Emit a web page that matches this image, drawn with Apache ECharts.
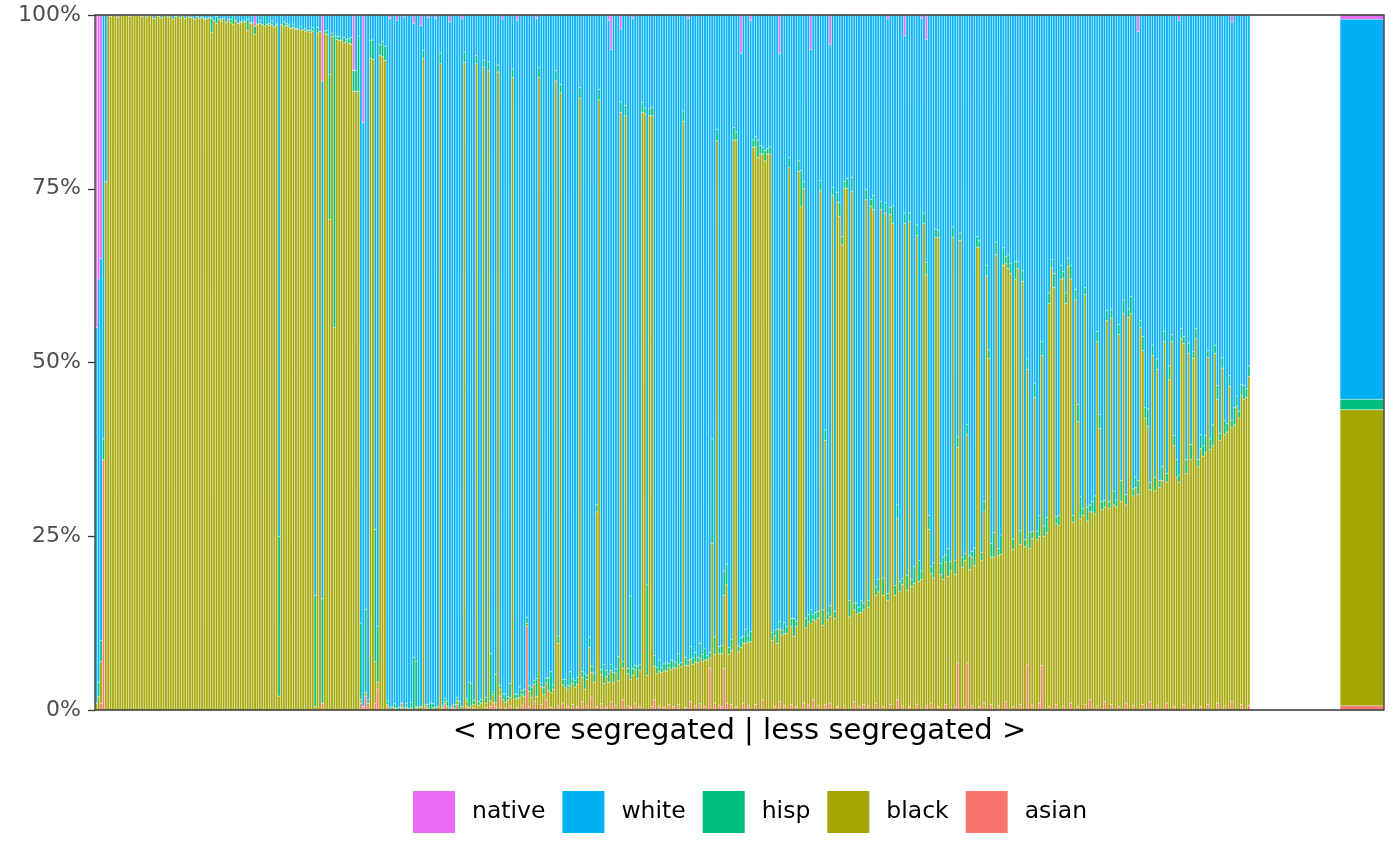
<!DOCTYPE html>
<html>
<head>
<meta charset="utf-8">
<title>School composition by segregation</title>
<script src="https://cdn.jsdelivr.net/npm/echarts/dist/echarts.min.js"></script>
<style>
  html, body { margin: 0; padding: 0; background: #fff; }
  #chart { width: 1400px; height: 865px; }
</style>
</head>
<body>
<div id="chart"></div>
<script>
// Share of students (%) per school, schools ordered from more to less segregated
const asian = [
  0,0,1,36,0,0,0,0,0,0,0,0,0,0,0,0,0,0,0,0,
  0,0,0,0,0,0,0,0,0,0,0,0,0,0,0,0,0,0,0,0,
  0,0,0,0,0,0,0,0,0,0,0,0,0,0,0,0,0,0,0,0,
  0,0,0,0,0,0,0,0,0,0,0,0,0,0,0,0,0,0,0,0,
  0,0,0,0,0,0,0,0,0,0,0,0,0,0,1,0,0,0,0,0,
  0,0,0,0,0,0,0,0,0,0,1,0.5,2,1,0,0,1,3,0,0,
  0,0.5,0,0,0.3,0,0,0.4,0,0,0.2,0,0,0.3,0,0,0,0.5,0,0,
  0,0,0,0,0.4,0.9,0,0,0.3,0,0.8,0,0,0,0.5,0,0,0.3,0,0,
  0,0,0.4,0,0.5,1.0,0.5,0,2.0,0,0.3,0,0.6,0,0,0.4,0,0.7,0,12,
  0.5,0,1.2,0,0,0.8,0,1.5,0,0.4,0,0,0.6,0,1.0,0,0.5,0,0.8,0,
  0.5,0,1.2,0,0.6,0,1.8,0,0.5,0,0.9,0,0.4,0,1.2,0,0.7,0,0,1.5,
  0,0.6,0.4,0,1.0,0,0.5,0,0,0,0,0.5,1.5,0,0.6,0,0.4,0,0.8,0,
  0.5,0,0.8,0,0,0.4,0,1.2,0,0.6,0,0.9,0,0.5,0,6.0,0,1.0,0,0.7,
  0.5,6,1,0,0.8,0,0.5,0,0,1.0,0,0.6,0,0,0.8,0,0,1.5,0,0,
  0,0,0.5,0,1.2,0,0.6,0,0,0.8,0,0.5,0,0,1.0,0,0.7,0,1.5,0,
  0.6,0,0,0.8,0,1.0,0,0,0.5,0,0,0.6,0,0,0,1.2,0,0.5,0,0.8,
  0,0.6,0,0,1.0,0,0,0.5,0,0,0.8,0,0,1.5,0,0.6,0,0,0.5,0,
  0,0.8,0,0,0,0.6,0,1.0,0,0,0.5,0,0,0.8,0,0,0,0.5,6.8,0,
  0,0.5,6.8,0,0.6,0,0,0.5,0,1.0,0,0,0.8,0,0,0.6,0,0,1.2,0,
  0,0.5,0,0,0.8,0,0,6.5,0,0.7,0,0,1.0,6.4,0,0,0.5,0,0,0.8,
  0,0,0.6,0,0,1.0,0,0,0.5,0,0,0.8,0,1.5,0,0,0.6,0,0,1.2,
  0,0,0.8,0,0,0.5,0,0,1.0,0,0,0.6,0,0,0,0.8,0,0,1.2,0,
  0,0.6,0,0,0,1.0,0,0,0.5,0,0,0,0.8,0,0,0,0.6,0,0,0.5,
  0,0,0.8,0,0,0,1.0,0,0,0.6,0,0,1.2,0,0,0,0.8,0,0,0.7
]
const black = [
  1,2,6,0,76,100,99.8,100,100,99.7,100,99.9,100,100,99.8,100,100,99.9,100,99.8,
  100,99.7,99.9,100,99.5,100,99.8,99.6,100,99.9,99.7,100,99.4,99.8,100,99.6,99.9,99.5,100,99.7,
  99.6,99.4,99.8,99.5,99.7,99.3,99.5,99.6,97.5,99.2,98.8,99.4,99.1,99.5,99.0,99.3,98.9,98.6,99.2,98.8,
  99.0,98.9,99.1,97.8,98.8,98.9,97.2,98.7,98.8,98.6,98.4,98.7,98.5,98.6,98.3,98.5,2,98.6,98.4,98.5,
  98.3,98.1,98.2,97.9,98.0,97.8,97.9,97.6,97.8,97.5,97.7,0.5,97.4,97.6,0,97.3,97.2,70.6,96.9,55,
  96.5,96.3,96.4,96.0,96.2,95.9,95.8,89,89,89,0.5,0,0.5,0,93.8,93.6,6,1,94.2,94.0,
  93.5,0.3,0,0.5,0,0.2,0,0.6,0,0.4,0,0.3,0,0.2,0,0.5,93.7,0,0.3,0,
  0.3,0,0.5,93,0,0.3,0.5,0,0.4,0.2,0.6,0,0.5,93.2,0.8,0.4,0.6,0.5,93,0.7,
  1.0,92.5,0.6,92,0.8,1.2,0.6,91.8,1.0,1.5,0.8,1.4,1.2,91,1.6,1.3,1.8,1.5,2.0,0.5,
  2.2,1.8,2.5,2.0,91,2.6,2.2,2.4,2.8,2.1,3.0,90.5,9.0,88.8,2.6,3.2,2.5,3.5,3.0,3.3,
  3.2,88,3.5,3.0,3.8,9.0,3.6,4.0,28,87.8,4.2,3.8,4.4,4.0,4.5,3.9,4.6,4.2,86,4.5,
  85.5,4.6,4.0,5.0,4.8,4.5,5.2,86,85.8,5.0,85.5,85,4.8,5.2,5.0,5.4,5.2,5.6,5.3,5.8,
  5.6,6.0,5.8,6.2,84.7,6.0,6.4,6.1,6.6,6.3,6.8,6.5,7.0,6.7,7.2,1.5,24,7.0,81.9,7.4,
  7.6,10.5,17,8.0,7.8,82,81.5,8.4,9.0,8.6,9.6,9.2,9.8,81,80.2,79.5,80,78.5,79,80,
  80,10.0,10.2,9.6,10.5,10.8,10.4,11.0,78,11.2,10.6,11.5,77.5,72.4,74,11.8,12.0,12.4,11.5,12.8,
  12.6,74.7,12.2,38,13.0,12.5,74,13.2,72.5,71,66.9,74.5,75,13.4,74.6,13.2,13.8,13.5,14.0,13.6,
  73.4,14.2,72.5,72,15.5,17,72,16.0,71.5,15.8,70.5,70,16.5,26,17,17.5,70,17.2,69.8,17.8,
  18.2,67.5,18.5,18.8,70,62,26,18.6,19.0,68,67.5,19.5,18.8,20.5,19.2,20.0,68,19.0,31,67.6,
  20.5,21.0,32.8,20.2,21.4,20.8,66.6,66,21.5,27.5,62.5,50.6,21.2,22.0,65.5,21.6,22.4,64,63,63.5,
  62.8,22.6,62,63.5,23.0,61.7,23.5,42.5,23.2,24.0,45,24.5,24.0,44.6,25.0,25.5,58,63.6,60.8,26.0,
  26.5,62,61.5,58.5,63.8,61,27.0,59,41,27.5,28.0,59,27.2,27.0,28.5,28.2,52.4,40.5,28.8,28.0,
  56,29.0,55.6,29.5,29.2,53.5,30.0,57,28.5,56.5,57,30.2,32,31.0,55,50.9,42,40.8,30.5,51,
  31.5,48.4,32.0,33,53,31.8,47.5,53,37.5,33.5,32.8,53.4,51.9,34.0,51.3,36,50,53.4,35.0,37.1,
  36.5,37.0,49.9,37.5,38.0,51.3,43.7,38.8,49.2,39.0,40.0,46.6,39.5,41.0,43.7,42.0,44.5,44.7,45.0,47.3
]
const hisp = [
  0,2,3,3,0,0,0,0,0,0,0,0,0,0,0,0,0,0,0,0,
  0,0,0,0,0,0,0,0,0,0,0,0,0,0,0,0,0,0,0,0,
  0,0,0,0,0,0.2,0,0,2,0,1,0,0.3,0,0,0,0.5,1.3,0,0,
  0,0.3,0,1.6,0.2,0,1.2,0,0.4,0,1.5,0,0.3,0.5,0,0.2,23,0,0.6,0.3,
  0.3,0,0.5,0.2,0,0.6,0,0.4,0,0.3,0.5,16,0.8,0,15,0.4,0.6,20.8,0.5,42,
  0.4,0.6,0,0.8,0.3,0.7,1.0,3,3,8,11,0,12,0.5,2.5,2.8,19,8,1.5,2.2,
  2,0.5,0.3,0,0.6,0,0.4,0,0.3,0.5,0,0.8,7.6,6.5,0.4,0,1.2,0.3,0.5,1,
  0.6,0.4,0,1.5,0.3,0.5,0.8,0.3,0,0.6,0.4,1.2,0,1.5,0.4,3.6,3.2,0.6,1.2,0.5,
  0.5,1.0,0.8,1.3,6.8,0.4,4.0,1.0,0.5,0.8,1.2,0.5,2.0,1.2,0.7,0.5,1.5,0.6,1.0,0.8,
  0.8,1.5,0.6,2.5,1.4,0.5,1.0,0.7,1.8,3.0,0.6,1.5,1.0,1.2,0.8,1.2,0.5,2.0,0.7,1.0,
  1.0,1.6,0.8,2.2,0.6,1.5,0.9,1.2,1.0,1.5,0.7,2.8,0.9,1.2,0.8,1.5,0.6,3.5,1.5,1.0,
  1.5,0.8,12,1.0,0.6,1.8,0.8,1.4,0.8,13,1.0,1.2,1.5,0.9,1.6,0.7,1.0,1.2,0.6,1.4,
  1.0,0.8,1.5,0.6,1.5,1.2,0.7,1.8,0.9,1.4,0.8,2.2,1.0,1.6,0.7,0.8,15,2.5,1.6,1.0,
  1.2,3.5,3,1.0,1.6,1.8,1.2,0.8,1.4,1.0,2.0,0.9,1.5,1.0,1.5,2.5,1.2,1.0,1.5,0.8,
  1.0,1.2,0.8,2.0,1.0,0.7,1.6,1.0,1.5,1.2,2.6,0.8,1.5,5.2,1.0,1.4,1.0,2.0,0.8,1.2,
  1.0,1.5,2.2,1.5,0.9,1.5,1.2,1.0,1.5,2.0,1.2,1.0,1.5,2.4,2.0,1.0,1.6,0.8,1.8,1.0,
  1.5,1.0,1.0,2.0,1.2,1.8,1.2,2.5,1.5,1.0,1.0,2.5,1.4,2.0,1.5,0.8,1.5,2.2,1.2,1.0,
  2.5,1.5,3.0,1.2,1.5,1.8,2.0,1.0,2.2,1.2,1.0,1.6,3.2,1.0,4.0,1.4,1.5,2.0,1.5,1.0,
  1.5,1.0,1.5,2.0,0.8,2.5,1.5,1.0,1.2,1.5,1.5,1.2,2.0,3.5,1.8,1.0,2.8,2.5,1.0,2.0,
  1.5,1.5,2.5,1.0,2.0,1.5,1.0,1.5,2.4,1.0,2.0,1.2,3.0,2.0,1.5,2.2,1.5,1.2,2.0,1.0,
  1.5,2.0,1.0,1.5,1.2,2.0,1.0,1.5,2.5,3.2,1.0,1.0,2.0,1.0,1.5,2.6,1.5,2.0,1.2,1.0,
  1.5,1.0,1.2,2.0,1.0,1.5,3.0,2.0,1.5,1.2,2.5,1.0,1.5,2.0,1.0,2.0,1.5,2.5,1.0,1.5,
  2.0,1.5,1.0,2.0,1.5,1.2,2.0,1.0,1.5,2.5,1.0,1.5,1.0,2.0,1.5,2.2,1.0,1.5,1.0,2.0,
  1.5,2.5,1.0,1.5,3.0,1.2,2.0,1.0,1.5,2.0,1.2,1.5,1.0,2.5,1.5,1.0,1.5,2.0,1.2,1.5
]
const white = [
  54,58,55,61,24,0,0.2,0,0,0.3,0,0.1,0,0,0.2,0,0,0.1,0,0.2,
  0,0.3,0.1,0,0.5,0,0.2,0.4,0,0.1,0.3,0,0.6,0.2,0,0.4,0.1,0.5,0,0.3,
  0.4,0.6,0.2,0.5,0.3,0.5,0.5,0.4,0.5,0.8,0.2,0.6,0.6,0.5,1.0,0.7,0.6,0.1,0.8,1.2,
  1.0,0.8,0.9,0.6,1.0,1.1,0,1.3,0.8,1.4,0.1,1.3,1.2,0.9,1.7,1.3,75,1.4,1.0,1.2,
  1.4,1.9,1.3,1.9,2.0,1.6,2.1,2.0,2.2,2.2,1.8,83.5,1.8,2.4,74.5,2.3,2.2,8.6,2.6,3,
  3.1,3.1,3.6,3.2,3.5,3.4,3.2,0,8,3,87.5,84,85.5,98.5,3.7,3.6,74,88,4.3,3.8,
  4.5,98.7,99.2,99.5,99.1,99.0,99.6,99.0,99.4,99.1,99.8,98.9,91.2,93.0,99.6,98.0,5.1,99.2,98.8,99,
  99.1,99.1,99.5,5.5,99.3,98.3,98.7,98.7,99.3,99.2,98.2,98.8,98.9,5.3,98.3,96.0,96.2,98.6,5.8,98.8,
  98.5,6.5,98.2,6.7,91.9,97.4,94.9,7.2,96.5,97.1,97.7,98.1,96.2,7.8,97.7,97.0,96.7,97.2,97.0,86.7,
  96.5,96.7,95.7,95.0,7.6,96.1,96.8,95.4,95.4,94.5,96.4,8.0,89.4,10.0,95.6,95.6,96.5,94.5,95.5,95.7,
  95.3,10.4,94.5,94.8,95.0,89.5,93.7,94.8,70.5,10.7,94.2,93.4,94.3,94.0,88.5,94.6,94.1,92.3,10.5,93.0,
  13.0,94.0,83.6,93.5,93.6,93.7,93.5,12.6,13.4,82.0,13.5,13.3,92.2,93.9,92.8,93.9,92.8,93.2,93.3,92.8,
  92.9,93.2,91.9,93.2,13.8,92.4,92.4,90.9,92.5,91.7,92.4,90.4,92.0,91.2,92.1,91.7,61.0,89.5,16.5,90.9,
  90.7,80.0,79.0,91.0,89.8,16.2,16.8,90.8,84.1,89.4,88.4,89.3,87.9,18.0,17.5,18.0,18.8,19.0,19.5,19.2,
  19.0,88.8,88.5,88.4,81.8,88.5,87.4,88.0,20.5,86.8,86.8,87.2,21.0,22.4,24.0,86.8,86.3,80.6,86.2,86.0,
  85.8,23.8,85.6,59.7,86.1,80.7,24.8,85.8,25.5,27.0,31.9,23.9,23.5,84.2,23.4,84.6,84.6,85.2,84.2,84.6,
  25.1,84.2,26.5,26.0,82.3,81.2,26.8,81.0,27.0,82.6,27.7,27.5,82.1,70.5,81.5,81.1,25.5,80.6,28.5,81.2,
  79.3,30.2,78.5,79.5,28.5,32.1,72.0,79.4,78.8,30.8,31.0,78.9,78.0,77.7,76.8,78.6,30.5,78.5,60.7,31.4,
  78.0,77.5,58.9,77.8,77.2,76.7,31.9,32.5,77.3,70.0,36.0,48.2,76.0,74.5,32.7,76.8,74.8,33.5,34.8,34.5,
  35.7,75.4,35.5,35.5,74.2,36.8,75.5,49.5,74.4,74.3,53.0,74.3,72.0,47.0,73.5,72.3,40.0,35.2,37.2,72.2,
  72.0,36.0,36.9,40.0,35.0,36.0,72.0,39.5,56.0,69.3,71.0,39.2,70.8,70.5,70.0,69.2,45.5,57.5,70.0,69.8,
  42.5,70.0,42.4,68.5,69.8,44.5,67.0,41.0,69.0,42.3,40.5,68.2,66.5,64.6,44.0,46.3,56.5,56.7,67.3,47.5,
  66.5,49.5,67.0,65.0,45.5,66.0,50.5,46.0,60.5,64.0,65.4,45.1,46.3,64.0,47.2,61.8,48.4,45.1,64.0,60.4,
  62.0,60.5,48.3,61.0,59.0,47.5,53.3,60.2,49.3,58.4,58.8,51.9,57.3,56.5,54.8,57.0,53.2,53.3,53.8,50.5
]
const native = [
  45,38,35,0,0,0,0,0,0,0,0,0,0,0,0,0,0,0,0,0,
  0,0,0,0,0,0,0,0,0,0,0,0,0,0,0,0,0,0,0,0,
  0,0,0,0,0,0,0,0,0,0,0,0,0,0,0,0,0,0,0,0,
  0,0,0,0,0,0,1.6,0,0,0,0,0,0,0,0,0,0,0,0,0,
  0,0,0,0,0,0,0,0,0,0,0,0,0,0,9.5,0,0,0,0,0,
  0,0,0,0,0,0,0,8,0,0,0,15.5,0,0,0,0,0,0,0,0,
  0,0,0.5,0,0,0.8,0,0,0.3,0,0,0,1.2,0,0,1.5,0,0,0.4,0,
  0,0.5,0,0,0,0,0,1.0,0,0,0,0,0.6,0,0,0,0,0,0,0,
  0,0,0,0,0,0,0,0,0,0.6,0,0,0,0,0,0.8,0,0,0,0,
  0,0,0,0.5,0,0,0,0,0,0,0,0,0,0,0,0,0,0,0,0,
  0,0,0,0,0,0,0,0,0,0,0,0,0,0.8,5.0,0,0,0,2.0,0,
  0,0,0,0.5,0,0,0,0,0,0,0,0,0,0,0,0,0,0,0,0,
  0,0,0,0,0,0,0.5,0,0,0,0,0,0,0,0,0,0,0,0,0,
  0,0,0,0,0,0,0,0,5.5,0,0,0,0.8,0,0,0,0,0,0,0,
  0,0,0,0,5.5,0,0,0,0,0,0,0,0,0,0,0,0,5.0,0,0,
  0,0,0,0,0,4.3,0,0,0,0,0,0,0,0,0,0,0,0,0,0,
  0,0,0,0,0,0,0,0,0,0.6,0,0,0,0,0,0,3.0,0,0,0,
  0,0,0,0.5,0,3.5,0,0,0,0,0,0,0,0,0,0,0,0,0,0,
  0,0,0,0,0,0,0,0,0,0,0,0,0,0,0,0,0,0,0,0,
  0,0,0,0,0,0,0,0,0,0,0,0,0,0,0,0,0,0,0,0,
  0,0,0,0,0,0,0,0,0,0,0,0,0,0,0,0,0,0,0,0,
  0,0,0,0,0,0,0,0,0,0,0,0,0,2.4,0,0,0,0,0,0,
  0,0,0,0,0,0,0,0,0,0,0.8,0,0,0,0,0,0,0,0,0,
  0,0,0,0,0,0,0,0,0,0,0,0,1.0,0,0,0,0,0,0,0
]

// district-wide composition (%), same order as `groups`
const districtTotal = [0.6, 42.6, 1.5, 54.7, 0.6]

const groups = ['asian', 'black', 'hisp', 'white', 'native']   // stacked bottom -> top
const legendOrder = ['native', 'white', 'hisp', 'black', 'asian']
const groupColors = ['#F8766D', '#A3A500', '#00BF7D', '#00B0F6', '#E76BF3']
const yTicks = [0, 25, 50, 75, 100]

const shares = { asian, black, hisp, white, native }
const schools = black.map((_, i) => 'school ' + (i + 1))
const font = '"DejaVu Sans", "Liberation Sans", sans-serif'

// position = fill: every school's bar is scaled to 100%
const rowTotals = schools.map((_, i) => groups.reduce((s, g) => s + shares[g][i], 0))
function filled(g) {
  return shares[g].map((v, i) => v / rowTotals[i] * 100)
}

const barStyle = color => ({ color, borderColor: 'rgba(255,255,255,0.55)', borderWidth: 0.4 })

const series = []
groups.forEach((g, k) => {
  series.push({
    name: g, type: 'bar', stack: 'schools', xAxisIndex: 0, yAxisIndex: 0,
    barCategoryGap: '0%', data: filled(g), itemStyle: barStyle(groupColors[k]),
    emphasis: { disabled: true }
  })
})
groups.forEach((g, k) => {
  series.push({
    name: g, type: 'bar', stack: 'district', xAxisIndex: 1, yAxisIndex: 1,
    barCategoryGap: '0%', data: [districtTotal[k]], itemStyle: barStyle(groupColors[k]),
    emphasis: { disabled: true }
  })
})

const chart = echarts.init(document.getElementById('chart'))
chart.setOption({
  animation: false,
  backgroundColor: '#fff',
  textStyle: { fontFamily: font },
  grid: [
    { left: 95, top: 15, width: 1155, height: 695 },
    { left: 1340, top: 15, width: 44, height: 695 }
  ],
  xAxis: [
    { type: 'category', gridIndex: 0, data: schools, show: false },
    { type: 'category', gridIndex: 1, data: ['district'], show: false }
  ],
  yAxis: [
    {
      type: 'value', gridIndex: 0, min: yTicks[0], max: yTicks[yTicks.length - 1], interval: 25,
      axisLine: { show: false },
      axisTick: { show: true, length: 7, lineStyle: { color: '#333333', width: 1.3 } },
      axisLabel: { formatter: v => v + '%', fontSize: 22, color: '#4D4D4D', margin: 14, fontFamily: font },
      splitLine: { show: false }
    },
    { type: 'value', gridIndex: 1, min: 0, max: 100, show: false }
  ],
  legend: {
    data: legendOrder,
    left: 413, top: 791, padding: 0,
    itemWidth: 42, itemHeight: 42, itemGap: 17,
    icon: 'rect',
    itemStyle: { borderWidth: 0 },
    selectedMode: false,
    textStyle: { fontSize: 23.5, color: '#000', fontFamily: font, padding: [0, 0, 0, 12] }
  },
  graphic: [
    {
      type: 'rect', silent: true, z: 100,
      shape: { x: 95, y: 15, width: 1289, height: 695 },
      style: { fill: 'none', stroke: '#333333', lineWidth: 1.3 }
    },
    {
      type: 'text', silent: true, x: 739.5, y: 731,
      style: {
        text: '< more segregated | less segregated >', fontSize: 29, fontFamily: font,
        fill: '#000', align: 'center', verticalAlign: 'middle'
      }
    }
  ],
  series
})
</script>
</body>
</html>
